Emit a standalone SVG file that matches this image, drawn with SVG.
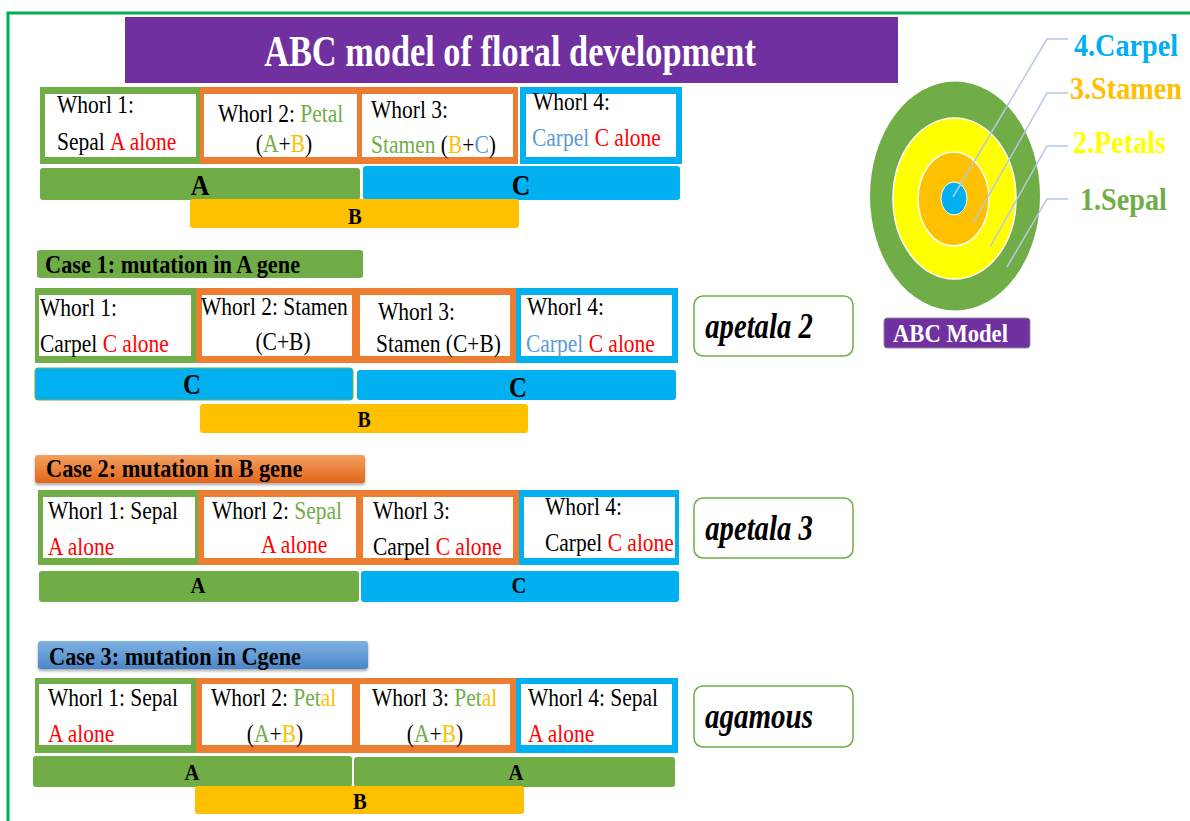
<svg xmlns="http://www.w3.org/2000/svg" width="1190" height="821" viewBox="0 0 1190 821">
<style>
.t{font-family:"Liberation Serif","Times New Roman",serif;font-size:25px;fill:#000}
.hb{font-family:"Liberation Serif","Times New Roman",serif;font-weight:bold;font-size:26px;fill:#000}
.bl{font-family:"Liberation Serif","Times New Roman",serif;font-weight:bold;fill:#000}
.it{font-family:"Liberation Serif","Times New Roman",serif;font-weight:bold;font-style:italic;font-size:35px;fill:#000}
.rl{font-family:"Liberation Serif","Times New Roman",serif;font-weight:bold;font-size:32px}
.r{fill:#ff0000}.g{fill:#70ad47}.y{fill:#ffc000}.lb{fill:#5b9bd5}
.fg{fill:#70ad47}.fo{fill:#ed7d31}.fb{fill:#00b0f0}.fy{fill:#ffc000}.fw{fill:#fff}
.mut{fill:#fff;stroke:#70ad47;stroke-width:1.5}
.lead{fill:none;stroke:#b4c7e7;stroke-width:1.5}
</style>
<defs>
<linearGradient id="gO" x1="0" y1="0" x2="0" y2="1"><stop offset="0" stop-color="#f4a060"/><stop offset="1" stop-color="#e2661a"/></linearGradient>
<linearGradient id="gB" x1="0" y1="0" x2="0" y2="1"><stop offset="0" stop-color="#7fb2e3"/><stop offset="1" stop-color="#4a86c8"/></linearGradient>
<filter id="sh" x="-5%" y="-20%" width="110%" height="160%"><feDropShadow dx="0" dy="2" stdDeviation="1.5" flood-color="#000" flood-opacity="0.35"/></filter>
</defs>
<rect width="1190" height="821" fill="#fff"/>
<path d="M8,821 L8,13 L1190,13" fill="none" stroke="#00b050" stroke-width="3"/>

<g id="title">
<rect x="125" y="17" width="773" height="66" fill="#7030a0"/>
<text class="bl" font-size="44" style="fill:#fff" text-anchor="middle" transform="translate(510 66) scale(.78 1)">ABC model of floral development</text>
</g>

<!-- Normal row -->
<g id="normal-whorls">
<rect class="fg" x="40" y="87" width="160" height="77"/>
<rect class="fo" x="200" y="87" width="318" height="77"/>
<rect class="fb" x="520" y="87" width="162" height="77"/>
<rect class="fw" x="45" y="94" width="151" height="63"/>
<rect class="fw" x="204" y="94" width="153" height="63"/>
<rect class="fw" x="362" y="94" width="151" height="63"/>
<rect class="fw" x="526" y="94" width="150" height="63"/>
<text class="t" transform="translate(57 113) scale(.86 1)">Whorl 1:</text>
<text class="t" transform="translate(57 150) scale(.86 1)">Sepal <tspan class="r">A alone</tspan></text>
<text class="t" transform="translate(218 122) scale(.86 1)">Whorl 2: <tspan class="g">Petal</tspan></text>
<text class="t" text-anchor="middle" transform="translate(284 152) scale(.86 1)">(<tspan class="g">A</tspan>+<tspan class="y">B</tspan>)</text>
<text class="t" transform="translate(371 118) scale(.86 1)">Whorl 3:</text>
<text class="t" transform="translate(371 153) scale(.86 1)"><tspan class="g">Stamen</tspan> (<tspan class="y">B</tspan>+<tspan class="lb">C</tspan>)</text>
<text class="t" transform="translate(533 110) scale(.86 1)">Whorl 4:</text>
<text class="t" transform="translate(532 146) scale(.86 1)"><tspan class="lb">Carpel</tspan><tspan class="r"> C alone</tspan></text>
</g>
<g id="normal-bars">
<rect class="fg" x="40" y="168" width="320" height="32" rx="3"/>
<rect class="fb" x="363" y="166" width="317" height="34" rx="3"/>
<rect class="fy" x="190" y="199" width="329" height="29" rx="3"/>
<text class="bl" font-size="30" text-anchor="middle" transform="translate(200 195) scale(.86 1)">A</text>
<text class="bl" font-size="30" text-anchor="middle" transform="translate(521 195) scale(.86 1)">C</text>
<text class="bl" font-size="24" text-anchor="middle" transform="translate(355 224) scale(.86 1)">B</text>
</g>

<!-- Case 1 -->
<g id="case1-header">
<rect class="fg" x="37" y="250" width="326" height="28" rx="3"/>
<text class="hb" transform="translate(45 273) scale(.86 1)">Case 1: mutation in A gene</text>
</g>
<g id="case1-whorls">
<rect class="fg" x="35" y="288" width="161" height="75"/>
<rect class="fo" x="196" y="288" width="320" height="75"/>
<rect class="fb" x="516" y="288" width="162" height="75"/>
<rect class="fw" x="39" y="295" width="152" height="61"/>
<rect class="fw" x="202" y="295" width="150" height="61"/>
<rect class="fw" x="360" y="295" width="150" height="61"/>
<rect class="fw" x="521" y="295" width="151" height="61"/>
<text class="t" transform="translate(40 316) scale(.86 1)">Whorl 1:</text>
<text class="t" transform="translate(40 352) scale(.86 1)">Carpel <tspan class="r">C alone</tspan></text>
<text class="t" transform="translate(201 315) scale(.86 1)">Whorl 2: Stamen</text>
<text class="t" text-anchor="middle" transform="translate(283 350) scale(.86 1)">(C+B)</text>
<text class="t" transform="translate(378 320) scale(.86 1)">Whorl 3:</text>
<text class="t" transform="translate(376 352) scale(.86 1)">Stamen (C+B)</text>
<text class="t" transform="translate(527 315) scale(.86 1)">Whorl 4:</text>
<text class="t" transform="translate(526 352) scale(.86 1)"><tspan class="lb">Carpel</tspan><tspan class="r"> C alone</tspan></text>
</g>
<g id="case1-bars">
<rect class="fb" x="35" y="368" width="318" height="32" rx="3" stroke="#70ad47" stroke-width="1"/>
<rect class="fb" x="357" y="370" width="319" height="30" rx="3"/>
<rect class="fy" x="200" y="404" width="328" height="29" rx="3"/>
<text class="bl" font-size="29" text-anchor="middle" transform="translate(192 394) scale(.86 1)">C</text>
<text class="bl" font-size="29" text-anchor="middle" transform="translate(518 397) scale(.86 1)">C</text>
<text class="bl" font-size="23" text-anchor="middle" transform="translate(364 427) scale(.86 1)">B</text>
</g>
<g id="case1-mutant">
<rect class="mut" x="694" y="296" width="159" height="60" rx="9"/>
<text class="it" text-anchor="middle" transform="translate(759 338) scale(.82 1)">apetala 2</text>
</g>

<!-- Case 2 -->
<g id="case2-header">
<rect x="35" y="455" width="330" height="28" rx="3" fill="url(#gO)" filter="url(#sh)"/>
<text class="hb" transform="translate(46 477) scale(.86 1)">Case 2: mutation in B gene</text>
</g>
<g id="case2-whorls">
<rect class="fg" x="38" y="490" width="160" height="75"/>
<rect class="fo" x="198" y="490" width="321" height="75"/>
<rect class="fb" x="519" y="490" width="160" height="75"/>
<rect class="fw" x="43" y="497" width="152" height="61"/>
<rect class="fw" x="204" y="497" width="152" height="61"/>
<rect class="fw" x="363" y="497" width="150" height="61"/>
<rect class="fw" x="524" y="497" width="151" height="61"/>
<text class="t" transform="translate(48 519) scale(.86 1)">Whorl 1: Sepal</text>
<text class="t r" transform="translate(48 555) scale(.86 1)">A alone</text>
<text class="t" transform="translate(212 519) scale(.86 1)">Whorl 2:  <tspan class="g">Sepal</tspan></text>
<text class="t r" transform="translate(261 553) scale(.86 1)">A alone</text>
<text class="t" transform="translate(373 519) scale(.86 1)">Whorl 3:</text>
<text class="t" transform="translate(373 555) scale(.86 1)">Carpel <tspan class="r">C alone</tspan></text>
<text class="t" transform="translate(545 515) scale(.86 1)">Whorl 4:</text>
<text class="t" transform="translate(545 551) scale(.86 1)">Carpel <tspan class="r">C alone</tspan></text>
</g>
<g id="case2-bars">
<rect class="fg" x="39" y="571" width="320" height="31" rx="3"/>
<rect class="fb" x="361" y="571" width="318" height="31" rx="3"/>
<text class="bl" font-size="24" text-anchor="middle" transform="translate(198 593) scale(.86 1)">A</text>
<text class="bl" font-size="24" text-anchor="middle" transform="translate(519 593) scale(.86 1)">C</text>
</g>
<g id="case2-mutant">
<rect class="mut" x="694" y="498" width="159" height="60" rx="9"/>
<text class="it" text-anchor="middle" transform="translate(759 540) scale(.82 1)">apetala 3</text>
</g>

<!-- Case 3 -->
<g id="case3-header">
<rect x="38" y="641" width="330" height="28" rx="3" fill="url(#gB)" filter="url(#sh)"/>
<text class="hb" transform="translate(49 665) scale(.86 1)">Case 3: mutation in Cgene</text>
</g>
<g id="case3-whorls">
<rect class="fg" x="35" y="678" width="161" height="75"/>
<rect class="fo" x="196" y="678" width="320" height="75"/>
<rect class="fb" x="516" y="678" width="162" height="75"/>
<rect class="fw" x="39" y="684" width="152" height="61"/>
<rect class="fw" x="202" y="684" width="150" height="61"/>
<rect class="fw" x="360" y="684" width="150" height="61"/>
<rect class="fw" x="521" y="684" width="151" height="61"/>
<text class="t" transform="translate(48 706) scale(.86 1)">Whorl 1: Sepal</text>
<text class="t r" transform="translate(48 742) scale(.86 1)">A alone</text>
<text class="t" transform="translate(211 706) scale(.86 1)">Whorl 2:  <tspan class="g">Pet</tspan><tspan class="y">al</tspan></text>
<text class="t" text-anchor="middle" transform="translate(275 742) scale(.86 1)">(<tspan class="g">A</tspan>+<tspan class="y">B</tspan>)</text>
<text class="t" transform="translate(372 706) scale(.86 1)">Whorl 3:  <tspan class="g">Pet</tspan><tspan class="y">al</tspan></text>
<text class="t" text-anchor="middle" transform="translate(435 742) scale(.86 1)">(<tspan class="g">A</tspan>+<tspan class="y">B</tspan>)</text>
<text class="t" transform="translate(528 706) scale(.86 1)">Whorl 4: Sepal</text>
<text class="t r" transform="translate(528 742) scale(.86 1)">A alone</text>
</g>
<g id="case3-bars">
<rect class="fg" x="33" y="756" width="319" height="31" rx="3"/>
<rect class="fg" x="354" y="757" width="321" height="30" rx="3"/>
<rect class="fy" x="195" y="786" width="329" height="28" rx="3"/>
<text class="bl" font-size="24" text-anchor="middle" transform="translate(192 780) scale(.86 1)">A</text>
<text class="bl" font-size="24" text-anchor="middle" transform="translate(516 780) scale(.86 1)">A</text>
<text class="bl" font-size="24" text-anchor="middle" transform="translate(360 809) scale(.86 1)">B</text>
</g>
<g id="case3-mutant">
<rect class="mut" x="694" y="686" width="159" height="61" rx="9"/>
<text class="it" text-anchor="middle" transform="translate(759 728) scale(.83 1)">agamous</text>
</g>

<!-- ABC model circles -->
<g id="flower">
<ellipse cx="955" cy="196" rx="85" ry="114.5" fill="#70ad47"/>
<ellipse cx="954.5" cy="198.5" rx="61.5" ry="80.5" fill="#ffff00" stroke="#fff" stroke-width="1.5"/>
<ellipse cx="953.5" cy="199" rx="35.5" ry="47" fill="#ffc000" stroke="#fff" stroke-width="1.5"/>
<ellipse cx="954" cy="198.5" rx="13" ry="16.5" fill="#00b0f0" stroke="#fff" stroke-width="1"/>
</g>
<g id="connectors">
<polyline class="lead" points="953,197 1047,39 1068,39"/>
<polyline class="lead" points="973,223 1047,93 1068,93"/>
<polyline class="lead" points="990,247 1047,146 1068,146"/>
<polyline class="lead" points="1007,267 1047,199 1068,199"/>
</g>
<g id="label-carpel"><text class="rl" fill="#00b0f0" transform="translate(1074 56) scale(.88 1)">4.Carpel</text></g>
<g id="label-stamen"><text class="rl" fill="#ffc000" transform="translate(1070 99) scale(.88 1)">3.Stamen</text></g>
<g id="label-petals"><text class="rl" fill="#ffff00" transform="translate(1073 153) scale(.88 1)">2.Petals</text></g>
<g id="label-sepal"><text class="rl" fill="#70ad47" transform="translate(1080 210) scale(.88 1)">1.Sepal</text></g>
<g id="abc-model">
<rect x="884" y="318" width="146" height="30" rx="3" fill="#7030a0" stroke="#8e8e8e" stroke-width="1"/>
<text class="bl" font-size="26" style="fill:#fff" transform="translate(893 342) scale(.87 1)">ABC Model</text>
</g>
</svg>
